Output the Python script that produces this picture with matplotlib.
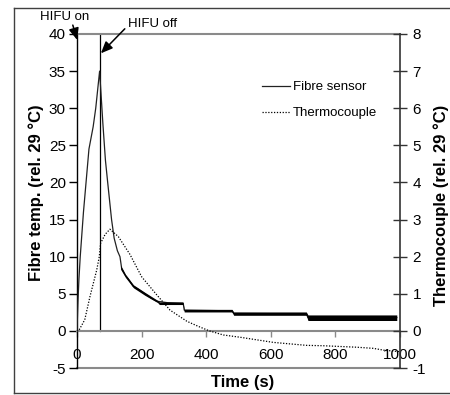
import matplotlib
matplotlib.use("Agg")
import matplotlib.pyplot as plt
from matplotlib.lines import Line2D

plt.rcParams['font.family'] = ['Liberation Sans', 'DejaVu Sans']
plt.rcParams['axes.unicode_minus'] = False

# ---- data ----
fibre_t = [0, 3, 6, 10, 15, 20, 28, 37, 50, 58, 70, 80, 88, 95, 107, 115, 125,
           133, 138, 150, 159, 174, 190, 210, 230, 247, 280, 329, 332, 480, 485,
           710, 715, 990]
fibre_v = [0, 4, 7, 10, 13, 16, 20, 24.5, 27.5, 30, 35, 28, 23, 20, 15, 12.5, 10.8,
           10, 8.5, 7.5, 7, 6, 5.6, 5, 4.4, 4, 3.8, 3.7, 2.8, 2.7, 2.35,
           2.3, 1.8, 1.8]

# noisy (quantised) parts of the fibre trace: lower / upper envelope
band_t  = [135, 150, 175, 210, 250, 255, 328, 332, 480, 485, 710, 715, 990]
band_lo = [8.3, 7.2, 5.8, 4.8, 3.8, 3.55, 3.55, 2.55, 2.55, 2.1, 2.1, 1.4, 1.4]
band_hi = [8.8, 7.6, 6.2, 5.2, 4.1, 3.9, 3.9, 2.9, 2.9, 2.55, 2.55, 2.15, 2.15]

thermo_t = [0, 5, 24, 40, 61, 69, 73, 87, 102, 128, 164, 200, 246, 288, 340,
            376, 410, 453, 504, 556, 608, 659, 711, 762, 814, 866, 917, 950, 1000]
thermo_v = [0, 0, 0.3, 0.92, 1.64, 2.0, 2.36, 2.6, 2.74, 2.54, 2.06, 1.46, 0.98,
            0.56, 0.26, 0.12, 0.0, -0.11, -0.17, -0.24, -0.31, -0.35, -0.39,
            -0.40, -0.42, -0.44, -0.47, -0.52, -0.56]

hifu_on_t = 0
hifu_off_t = 70

x_ticks = [0, 200, 400, 600, 800, 1000]
y_left_ticks = [-5, 0, 5, 10, 15, 20, 25, 30, 35, 40]
y_right_ticks = [-1, 0, 1, 2, 3, 4, 5, 6, 7, 8]

# ---- figure ----
W, H = 450, 395
fig = plt.figure(figsize=(W / 100, H / 100), dpi=100)
ax = fig.add_axes([77 / W, 1 - 368 / H, (400 - 77) / W, (368 - 34) / H])
ax2 = ax.twinx()

gray = '#8a8a8a'

ax.plot(fibre_t, fibre_v, color='#222222', lw=0.9, zorder=3)
ax.fill_between(band_t, band_lo, band_hi, color='black', lw=0, zorder=3)
ax2.plot(thermo_t, thermo_v, color='black', lw=0.9, linestyle=(0, (1, 1.3)))

ax.set_xlim(0, 1000)
ax.set_ylim(-5, 40)
ax2.set_ylim(-1, 8)

# vertical HIFU-off line
ax.plot([hifu_off_t, hifu_off_t], [0, 40], color='black', lw=0.9, zorder=2)

# spines
for s in ['top', 'bottom']:
    ax.spines[s].set_color(gray)
    ax.spines[s].set_linewidth(1.5)
ax.spines['bottom'].set_position(('data', 0))
ax.spines['left'].set_color('black')
ax.spines['left'].set_linewidth(1.0)
ax.spines['right'].set_visible(False)
for s in ['top', 'bottom', 'left']:
    ax2.spines[s].set_visible(False)
ax2.spines['right'].set_color('#333333')
ax2.spines['right'].set_linewidth(1.2)
ax.plot([0, 1000], [-5, -5], color=gray, lw=1.5, clip_on=False, zorder=1)

ax.set_xticks(x_ticks)
ax.set_yticks(y_left_ticks)
ax2.set_yticks(y_right_ticks)
ax.tick_params(axis='x', direction='out', length=4, width=1, color=gray,
               pad=8, labelsize=11)
ax.tick_params(axis='y', direction='out', length=6, width=1, color='black',
               pad=2, labelsize=11)
ax2.tick_params(axis='y', direction='inout', length=10, width=1, color='#333333',
                pad=4, labelsize=11)

ax.set_xlabel('Time (s)', fontsize=12, fontweight='bold')
ax.xaxis.set_label_coords(0.514, -0.02)
ax.set_ylabel('Fibre temp. (rel. 29 °C)', fontsize=12, fontweight='bold',
              va='center')
ax.yaxis.set_label_coords((36 - 77) / 323, 0.525)
ax2.set_ylabel('Thermocouple (rel. 29 °C)', fontsize=12, fontweight='bold',
               va='center', rotation=90)
ax2.yaxis.set_label_coords((441 - 77) / 323, 0.488)

# annotations
ap = dict(arrowstyle='-|>,head_length=0.7,head_width=0.3', color='black',
          lw=1.1, shrinkA=0, shrinkB=0)
ax.annotate('', xy=(0.5, 39.2), xytext=(-13, 41.2), arrowprops=ap,
            annotation_clip=False)
ax.text(-37, 42.3, 'HIFU on', fontsize=9.5, ha='center', va='center',
        clip_on=False)
ax.annotate('', xy=(74, 37.4), xytext=(148, 40.7), arrowprops=ap,
            annotation_clip=False)
ax.text(158, 41.4, 'HIFU off', fontsize=9.5, ha='left', va='center',
        clip_on=False)

handles = [Line2D([], [], color='#222222', lw=0.9),
           Line2D([], [], color='black', lw=0.9, linestyle=(0, (1, 1.3)))]
ax.legend(handles, ['Fibre sensor', 'Thermocouple'], loc='upper left',
          bbox_to_anchor=((262 - 77) / 323, 1 - (81 - 34) / 334),
          frameon=False, fontsize=9.5, handlelength=2.1, handletextpad=0.25,
          labelspacing=1.05, borderpad=0, borderaxespad=0)

# outer frame (left, top, bottom)
fc = '#404040'
fig.add_artist(Line2D([14 / W, 14 / W], [1 - 8 / H, 1 - 393 / H], color=fc, lw=1.0))
fig.add_artist(Line2D([14 / W, 1.0], [1 - 8 / H, 1 - 8 / H], color=fc, lw=1.0))
fig.add_artist(Line2D([14 / W, 1.0], [1 - 393 / H, 1 - 393 / H], color=fc, lw=1.0))

fig.savefig('out.png', dpi=100)
